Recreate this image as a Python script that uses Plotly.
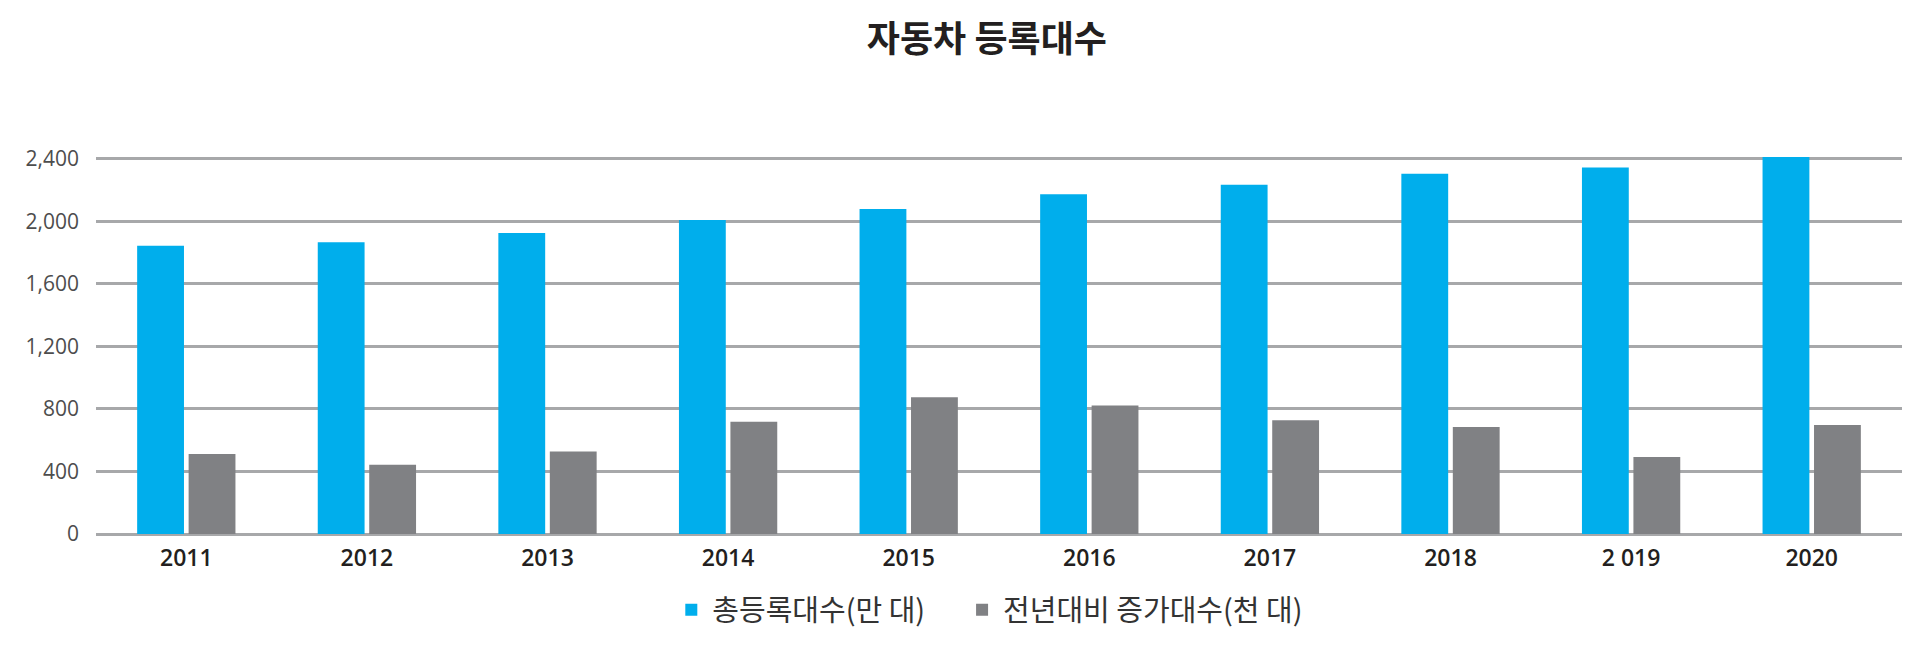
import plotly.graph_objects as go

years = ["2011", "2012", "2013", "2014", "2015", "2016", "2017", "2018", "2 019", "2020"]
total_reg = [1844, 1865, 1925, 2008, 2078, 2172, 2234, 2304, 2343, 2411]      # 총등록대수(만 대)
yoy_increase = [512, 443, 528, 718, 874, 822, 727, 684, 492, 697]            # 전년대비 증가대수(천 대)
y_ticks = [0, 400, 800, 1200, 1600, 2000, 2400]
y_tick_text = ["0", "400", "800", "1,200", "1,600", "2,000", "2,400"]

BLUE = "#00AEEC"
GRAY = "#808184"
GRID = "#A7A8AA"

fig = go.Figure()
fig.add_trace(go.Bar(x=years, y=total_reg, name="총등록대수(만 대)", legend="legend",
                     marker=dict(color=BLUE, line=dict(width=0))))
fig.add_trace(go.Bar(x=years, y=yoy_increase, name="전년대비 증가대수(천 대)", legend="legend2",
                     marker=dict(color=GRAY, line=dict(width=0))))

legend_font = dict(size=29, color="#333333", family="Noto Sans CJK KR, Noto Sans, sans-serif")

fig.update_layout(
    width=1920, height=648,
    margin=dict(l=96, r=18, t=154, b=114, autoexpand=False),
    paper_bgcolor="white", plot_bgcolor="white",
    barmode="group", bargap=0.43, bargroupgap=0.09,
    font=dict(family="Noto Sans, Noto Sans CJK KR, sans-serif", color="#333333"),
    title=dict(text="<b>자동차 등록대수</b>", x=0.514, xanchor="center",
               y=1 - 39 / 648, yanchor="middle", yref="container",
               font=dict(size=36, color="#231F20",
                         family="Noto Sans CJK KR, Noto Sans, sans-serif")),
    showlegend=True,
    legend=dict(orientation="h", x=0.318, xanchor="left", y=-0.2, yanchor="middle",
                font=legend_font, itemwidth=32, bgcolor="rgba(0,0,0,0)"),
    legend2=dict(orientation="h", x=0.479, xanchor="left", y=-0.2, yanchor="middle",
                 font=legend_font, itemwidth=32, bgcolor="rgba(0,0,0,0)"),
)

fig.update_xaxes(
    showgrid=False, showline=False, zeroline=False, ticks="",
    tickfont=dict(size=23, color="#231F20", family="Open Sans, Noto Sans, sans-serif", weight=600),
    ticklabelstandoff=8,
)
fig.update_yaxes(
    range=[0, 2430], tickvals=y_ticks, ticktext=y_tick_text,
    showgrid=True, gridcolor=GRID, gridwidth=2.5,
    zeroline=True, zerolinecolor=GRID, zerolinewidth=2.5,
    showline=False, ticks="",
    tickfont=dict(size=21, color="#4D4D4D", family="Open Sans, Noto Sans, sans-serif"),
    ticklabelstandoff=16,
)

fig.write_html("out.html")
